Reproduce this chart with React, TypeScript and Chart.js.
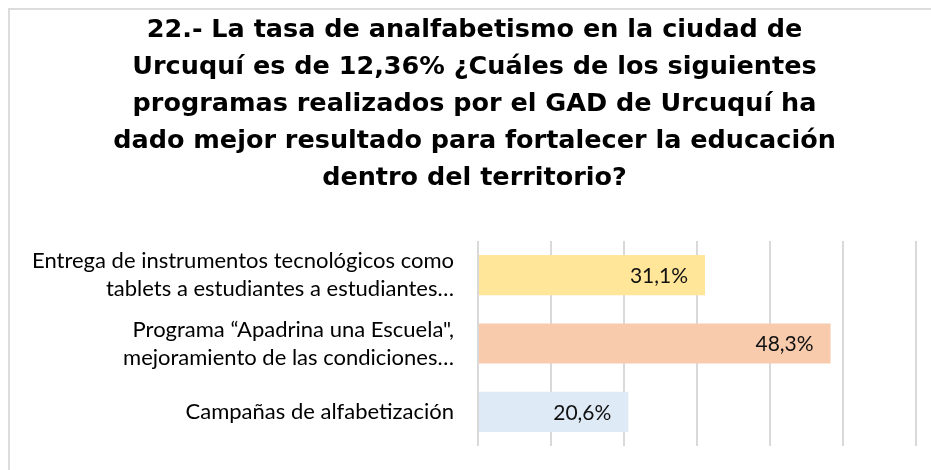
import React, { useEffect, useRef } from "react";
import { Chart, registerables } from "chart.js";

Chart.register(...registerables);

const titleLines = [
  "22.- La tasa de analfabetismo en la ciudad de",
  "Urcuquí es de 12,36% ¿Cuáles de los siguientes",
  "programas realizados por el GAD de Urcuquí ha",
  "dado mejor resultado para fortalecer la educación",
  "dentro del territorio?",
];

const categories: (string | string[])[] = [
  ["Entrega de instrumentos tecnológicos como", "tablets a estudiantes a estudiantes…"],
  ["Programa “Apadrina una Escuela\",", "mejoramiento de las condiciones…"],
  "Campañas de alfabetización",
];

const values = [31.1, 48.3, 20.6];
const barColors = ["#FFE699", "#F8CBAD", "#DEEBF7"];
const xMax = 60;
const xStep = 10;

const formatPct = (v: number) => v.toFixed(1).replace(".", ",") + "%";

const valueLabelPlugin = {
  id: "valueLabels",
  afterDatasetsDraw(chart: any) {
    const ctx = chart.ctx;
    const meta = chart.getDatasetMeta(0);
    ctx.save();
    ctx.font = "21px Lato";
    ctx.fillStyle = "#111111";
    ctx.textAlign = "right";
    ctx.textBaseline = "middle";
    meta.data.forEach((bar: any, i: number) => {
      ctx.fillText(formatPct(values[i]), bar.x - 17, bar.y + 1);
    });
    ctx.restore();
  },
};

export default function App() {
  const canvasRef = useRef<HTMLCanvasElement | null>(null);

  useEffect(() => {
    if (!canvasRef.current) return;
    const chart = new Chart(canvasRef.current, {
      type: "bar",
      data: {
        labels: categories,
        datasets: [
          {
            data: values,
            backgroundColor: barColors,
            borderWidth: 0,
            barPercentage: 0.588,
            categoryPercentage: 1,
          },
        ],
      },
      options: {
        indexAxis: "y",
        responsive: false,
        animation: false,
        layout: { padding: { left: 23, right: 15, top: 0, bottom: 24 } },
        plugins: {
          legend: { display: false },
          tooltip: { enabled: false },
          title: {
            display: true,
            text: titleLines,
            color: "#000000",
            font: { family: "DejaVu Sans", weight: "bold", size: 25.5, lineHeight: 37 / 25.5 },
            padding: { top: 2, bottom: 44 },
          },
        },
        scales: {
          x: {
            min: 0,
            max: xMax,
            afterFit: (scale: any) => {
              scale.height = 0;
              scale.paddingLeft = 0;
              scale.paddingRight = 0;
            },
            ticks: { display: false, stepSize: xStep },
            grid: { color: "#d9d9d9", lineWidth: 2, drawTicks: false },
            border: { display: false },
          },
          y: {
            afterFit: (scale: any) => {
              scale.width = 445;
              scale.paddingTop = 0;
              scale.paddingBottom = 0;
            },
            ticks: {
              color: "#000000",
              padding: 24,
              font: { family: "Lato", size: 22, lineHeight: 28 / 22 },
            },
            grid: { display: false, drawTicks: false },
            border: { display: false },
          },
        },
      },
      plugins: [valueLabelPlugin],
    });
    return () => chart.destroy();
  }, []);

  return (
    <div
      style={{
        position: "absolute",
        left: 8,
        top: 8,
        width: 923,
        height: 462,
        boxSizing: "border-box",
        borderTop: "2px solid #dcdcdc",
        borderLeft: "2px solid #dcdcdc",
        background: "#ffffff",
      }}
    >
      <canvas ref={canvasRef} width={921} height={460} style={{ display: "block" }} />
    </div>
  );
}
